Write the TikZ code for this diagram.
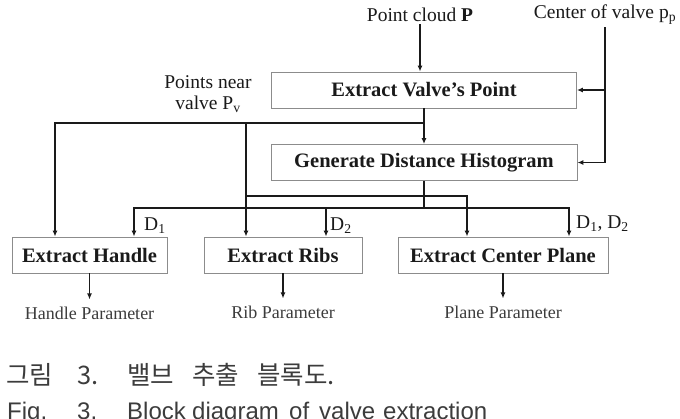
\documentclass[tikz,border=0pt]{standalone}
\usepackage{fontspec}
\setmainfont{Liberation Serif}
\newfontfamily\capfont{Liberation Sans}
\newfontfamily\krfont{Noto Sans CJK KR}
\usetikzlibrary{arrows.meta, positioning}
\definecolor{BoxGray}{HTML}{8C8C8C}
\definecolor{InkBlack}{HTML}{1A1A1A}

\begin{document}
\begin{tikzpicture}[x=1pt, y=-1pt,
  blk/.style={draw=BoxGray, line width=0.9pt, minimum height=36pt, inner sep=0pt, font=\fontsize{20.5}{23}\selectfont\bfseries, text=InkBlack},
  lbl/.style={font=\fontsize{19.5}{21}\selectfont, text=InkBlack, inner sep=2pt},
  plbl/.style={font=\fontsize{18}{20}\selectfont, text=InkBlack!85, inner sep=2pt},
  wire/.style={line width=1.6pt, draw=InkBlack},
  arr/.style={wire, -{Latex[length=6pt, width=5pt]}},
  captext/.style={font=\capfont\fontsize{24}{28}\selectfont, text=InkBlack!85, inner sep=0pt, anchor=base west}
]
\useasboundingbox (0,0) rectangle (680,418);
\fill[white] (0,0) rectangle (680,418);

% inputs
\node[lbl] (cloud) at (420,15) {Point cloud \textbf{P}};
\node[lbl] (cv) at (605,15) {Center of valve p\textsubscript{p}};
\node[lbl, align=center] (pnear) at (208,94) {Points near\\valve P\textsubscript{v}};

% process blocks
\node[blk, minimum width=305pt] (valve) at (424,90) {Extract Valve's Point};
\node[blk, minimum width=306pt] (hist) at (424,162.5) {Generate Distance Histogram};
\node[blk, minimum width=155pt] (handle) at (89.5,255) {Extract Handle};
\node[blk, minimum width=158pt] (ribs) at (283,255) {Extract Ribs};
\node[blk, minimum width=210pt] (plane) at (503,255) {Extract Center Plane};

% outputs
\node[plbl] (hpar) at (89.5,313) {Handle Parameter};
\node[plbl] (rpar) at (283,312) {Rib Parameter};
\node[plbl] (ppar) at (503,312) {Plane Parameter};

% distance labels
\node[lbl, anchor=west] (d1) at (142,226) {D\textsubscript{1}};
\node[lbl, anchor=west] (d2) at (328,226) {D\textsubscript{2}};
\node[lbl, anchor=west] (d12) at (574,224) {D\textsubscript{1}, D\textsubscript{2}};

% junctions and arrow ends
\coordinate (pv) at (424,123);
\coordinate (pr) at (246,123);
\coordinate (pc) at (246,196);
\coordinate (dd) at (424,208);
\coordinate (hA) at ([xshift=-34.5pt]handle.north);
\coordinate (hD) at ([xshift=44.5pt]handle.north);
\coordinate (rA) at ([xshift=-37pt]ribs.north);
\coordinate (rD) at ([xshift=43pt]ribs.north);
\coordinate (pA) at ([xshift=-36pt]plane.north);
\coordinate (pD) at ([xshift=66pt]plane.north);

\draw[arr] (cloud.south) -- (cloud.south |- valve.north);
\draw[arr] (cv.south) |- (valve.east);
\draw[arr] (cv.south) |- (hist.east);
\draw[arr] (valve.south) -- (hist.north);

% points near valve
\draw[arr] (pv) -| (hA);
\draw[arr] (pr) -- (rA);
\draw[arr] (pc) -| (pA);

% histogram distances
\draw[wire] (hist.south) -- (dd);
\draw[arr] (dd) -| (hD);
\draw[arr] (dd) -| (pD);
\draw[arr] (dd -| rD) -- (rD);

\draw[arr, shorten >=5pt] (handle) -- (hpar);
\draw[arr, shorten >=5pt] (ribs) -- (rpar);
\draw[arr, shorten >=5pt] (plane) -- (ppar);

% caption
\foreach \cx/\cw in {6/그림, 77/3., 127/밸브, 192/추출, 257/블록도.}
  \node[captext, font=\krfont\fontsize{25.5}{28}\selectfont] (kr\cx) at (\cx,384) {\cw};
\foreach \cx/\cw in {7/Fig., 77/3., 127/Block, 192/diagram, 289/of, 319/valve, 383/extraction}
  \node[captext] (en\cx) at (\cx,419) {\cw};
\end{tikzpicture}
\end{document}
